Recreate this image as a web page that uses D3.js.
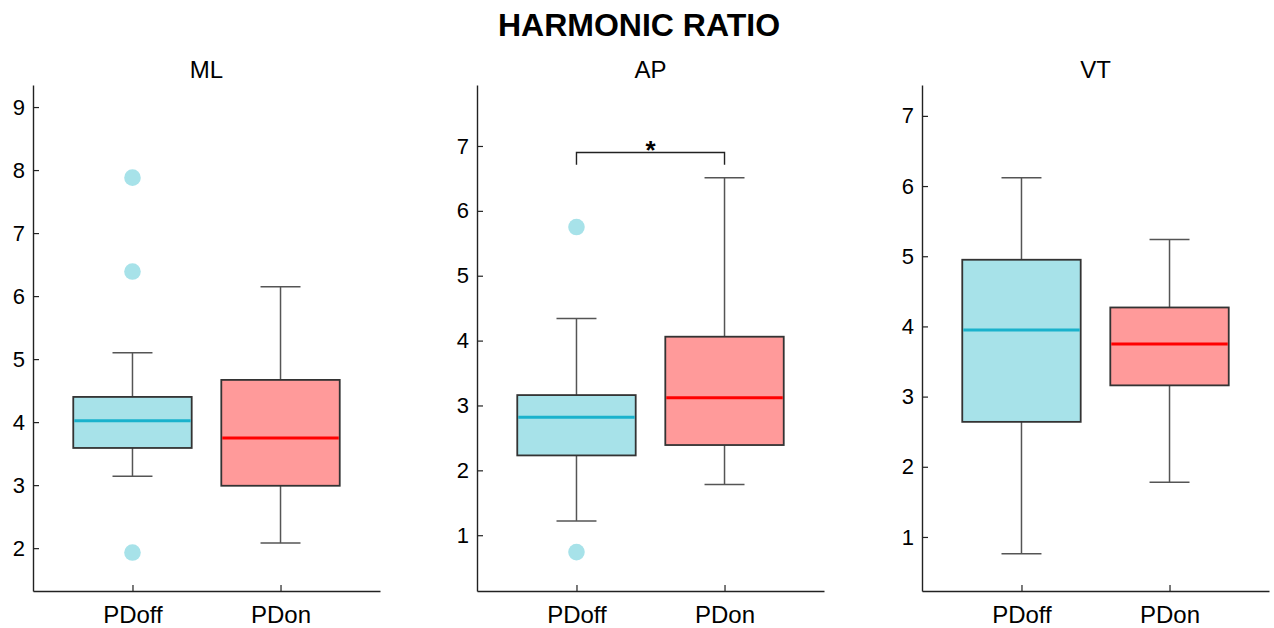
<!DOCTYPE html>
<html>
<head>
<meta charset="utf-8">
<script src="https://cdn.jsdelivr.net/npm/d3@7"></script>
<style>
  body { margin: 0; background: #fff; }
  svg { display: block; font-family: "Liberation Sans", Arial, sans-serif; }
</style>
</head>
<body>
<div id="chart"></div>
<script>
const chartTitle = "HARMONIC RATIO";
const panels = ["ML", "AP", "VT"];
const groups = ["PDoff", "PDon"];

// [lower whisker, q1, median, q3, upper whisker] per group
const mlStats = [[3.14, 3.59, 4.02, 4.40, 5.10], [2.08, 2.99, 3.75, 4.67, 6.15]];
const apStats = [[1.22, 2.23, 2.82, 3.16, 4.34], [1.78, 2.39, 3.12, 4.06, 6.51]];
const vtStats = [[0.76, 2.64, 3.95, 4.95, 6.12], [1.78, 3.16, 3.75, 4.27, 5.24]];

const mlOutliers = [[7.88, 6.39, 1.93], []];
const apOutliers = [[5.75, 0.74], []];
const vtOutliers = [[], []];

const yLimits = [[1.32, 9.35], [0.14, 7.94], [0.23, 7.44]];
const yTicks = [[2, 3, 4, 5, 6, 7, 8, 9], [1, 2, 3, 4, 5, 6, 7], [1, 2, 3, 4, 5, 6, 7]];

// significance bracket on AP: bar level, tip level, label
const apBracket = [6.90, 6.71];
const apBracketLabel = "*";

const stats = [mlStats, apStats, vtStats];
const outliers = [mlOutliers, apOutliers, vtOutliers];

const fills = ["#a7e2e9", "#ff9a9a"];
const medians = ["#1ab2cc", "#ff0000"];

const width = 1274, height = 628;
const panelLeft = [33, 477, 922];
const panelW = 347, plotTop = 85, plotBottom = 591;

const svg = d3.select("#chart").append("svg")
  .attr("width", width).attr("height", height);

svg.append("text")
  .attr("x", 639).attr("y", 36)
  .attr("text-anchor", "middle")
  .attr("font-size", "32px").attr("font-weight", "bold")
  .attr("fill", "#000")
  .text(chartTitle);

panels.forEach((name, p) => {
  const g = svg.append("g").attr("transform", `translate(${panelLeft[p]},0)`);

  const x = d3.scalePoint().domain(groups).range([0, panelW]).padding(0.672);
  const y = d3.scaleLinear().domain(yLimits[p]).range([plotBottom, plotTop]);
  const step = x.step();
  const boxW = step * 0.8, capW = step * 0.27;

  g.append("text")
    .attr("x", panelW / 2).attr("y", 78)
    .attr("text-anchor", "middle")
    .attr("font-size", "24px").attr("fill", "#000")
    .text(name);

  // whiskers
  stats[p].forEach((s, i) => {
    const cx = x(groups[i]);
    const wg = g.append("g").attr("stroke", "#555").attr("stroke-width", 1.5);
    wg.append("line").attr("x1", cx).attr("x2", cx).attr("y1", y(s[3])).attr("y2", y(s[4]));
    wg.append("line").attr("x1", cx).attr("x2", cx).attr("y1", y(s[1])).attr("y2", y(s[0]));
    wg.append("line").attr("x1", cx - capW / 2).attr("x2", cx + capW / 2).attr("y1", y(s[4])).attr("y2", y(s[4]));
    wg.append("line").attr("x1", cx - capW / 2).attr("x2", cx + capW / 2).attr("y1", y(s[0])).attr("y2", y(s[0]));
  });

  // boxes
  g.selectAll(".box").data(stats[p]).join("rect")
    .attr("class", "box")
    .attr("x", (d, i) => x(groups[i]) - boxW / 2)
    .attr("width", boxW)
    .attr("y", d => y(d[3]))
    .attr("height", d => y(d[1]) - y(d[3]))
    .attr("fill", (d, i) => fills[i])
    .attr("stroke", "#333").attr("stroke-width", 1.8);

  g.selectAll(".med").data(stats[p]).join("line")
    .attr("class", "med")
    .attr("x1", (d, i) => x(groups[i]) - boxW / 2 + 1)
    .attr("x2", (d, i) => x(groups[i]) + boxW / 2 - 1)
    .attr("y1", d => y(d[2])).attr("y2", d => y(d[2]))
    .attr("stroke", (d, i) => medians[i]).attr("stroke-width", 3);

  // outliers
  outliers[p].forEach((vals, i) => {
    g.selectAll(`.out${i}`).data(vals).join("circle")
      .attr("class", `out${i}`)
      .attr("cx", x(groups[i])).attr("cy", d => y(d))
      .attr("r", 8.3).attr("fill", fills[0]);
  });

  // axes
  const yAxis = g.append("g")
    .call(d3.axisLeft(y).tickValues(yTicks[p]).tickSizeInner(-6).tickSizeOuter(0).tickPadding(8));
  const xAxis = g.append("g").attr("transform", `translate(0,${plotBottom})`)
    .call(d3.axisBottom(x).tickSizeInner(-6).tickSizeOuter(0).tickPadding(15));

  [yAxis, xAxis].forEach(a => {
    a.select(".domain").attr("stroke", "#222").attr("stroke-width", 1.4);
    a.selectAll(".tick line").attr("stroke", "#222").attr("stroke-width", 1.2);
    a.selectAll("text").attr("fill", "#000").attr("font-family", "Liberation Sans, Arial, sans-serif");
  });
  yAxis.selectAll("text").attr("font-size", "22px");
  xAxis.selectAll("text").attr("font-size", "24px");

  if (name === "AP") {
    const x1 = x(groups[0]), x2 = x(groups[1]);
    g.append("path")
      .attr("d", `M${x1},${y(apBracket[1])}V${y(apBracket[0])}H${x2}V${y(apBracket[1])}`)
      .attr("fill", "none").attr("stroke", "#222").attr("stroke-width", 1.4);
    g.append("text")
      .attr("x", (x1 + x2) / 2).attr("y", y(apBracket[0]) + 7)
      .attr("text-anchor", "middle")
      .attr("font-size", "26px").attr("font-weight", "bold")
      .text(apBracketLabel);
  }
});
</script>
</body>
</html>
